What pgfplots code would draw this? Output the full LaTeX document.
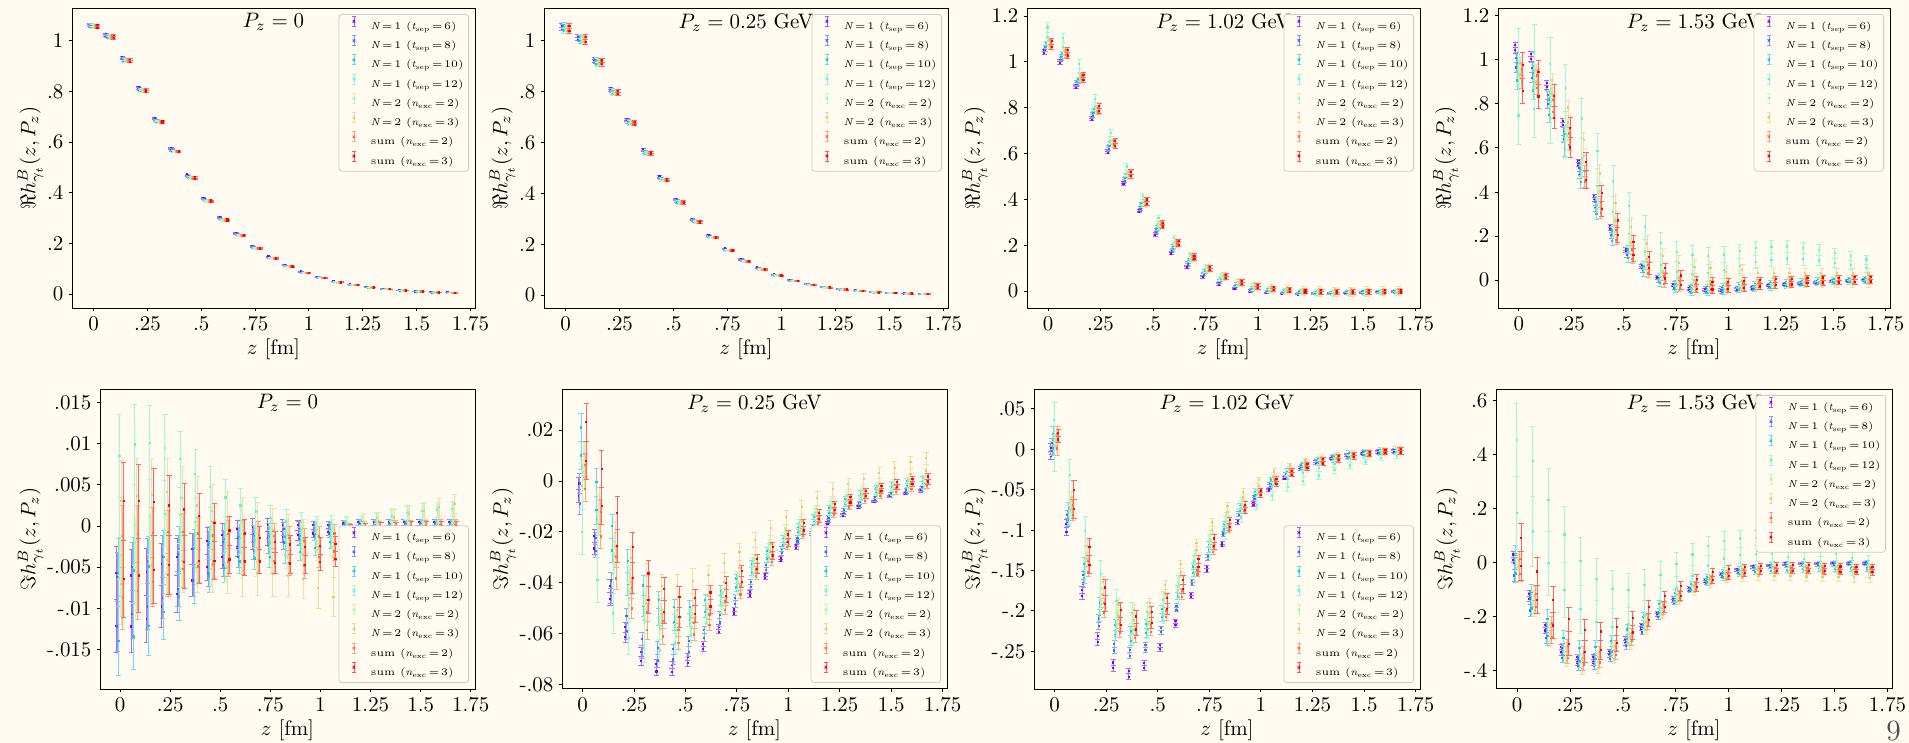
\documentclass[border=0pt]{standalone}
\usepackage{fix-cm}
\usepackage{pgfplots}
\usepackage{pgfplotstable}
\usetikzlibrary{calc}
\pgfplotsset{compat=1.18}
\definecolor{bgc}{HTML}{FFFBF0}
\definecolor{c1}{HTML}{8000FF}
\definecolor{c2}{HTML}{376FF9}
\definecolor{c3}{HTML}{12C7E6}
\definecolor{c4}{HTML}{5BF9C7}
\definecolor{c5}{HTML}{A4F99F}
\definecolor{c6}{HTML}{EDC76F}
\definecolor{c7}{HTML}{FF6F39}
\definecolor{c8}{HTML}{FF0000}

% columns: z, then (value, error) for the 8 series
\pgfplotstableread{
z a ea b eb c ec d ed e ee f ef g eg h eh
0      1.063 .007 1.060 .007 1.058 .009 1.057 .009 1.057 .009 1.057 .009 1.056 .009 1.056 .009
0.0755 1.023 .007 1.019 .007 1.017 .009 1.015 .009 1.015 .009 1.015 .009 1.015 .009 1.015 .009
0.151  0.931 .006 0.926 .006 0.923 .008 0.921 .008 0.921 .008 0.921 .008 0.921 .008 0.921 .008
0.2265 0.815 .006 0.809 .006 0.806 .007 0.803 .007 0.803 .007 0.803 .007 0.803 .007 0.803 .007
0.302  0.693 .005 0.686 .005 0.683 .006 0.680 .006 0.680 .006 0.680 .006 0.680 .006 0.680 .006
0.3775 0.575 .005 0.568 .005 0.565 .005 0.562 .005 0.562 .005 0.562 .005 0.562 .005 0.562 .005
0.453  0.470 .004 0.464 .004 0.461 .005 0.458 .005 0.458 .005 0.458 .005 0.458 .005 0.458 .005
0.5285 0.378 .004 0.372 .004 0.370 .004 0.367 .004 0.367 .004 0.367 .004 0.367 .004 0.367 .004
0.604  0.302 .003 0.297 .003 0.294 .004 0.292 .004 0.292 .004 0.292 .004 0.292 .004 0.292 .004
0.6795 0.240 .003 0.235 .003 0.233 .003 0.231 .003 0.231 .003 0.231 .003 0.231 .003 0.231 .003
0.755  0.188 .003 0.184 .003 0.182 .003 0.180 .003 0.180 .003 0.180 .003 0.180 .003 0.180 .003
0.8305 0.147 .002 0.143 .002 0.142 .003 0.140 .003 0.140 .003 0.140 .003 0.140 .003 0.140 .003
0.906  0.114 .002 0.111 .002 0.110 .002 0.108 .002 0.108 .002 0.108 .002 0.108 .002 0.108 .002
0.9815 0.088 .002 0.085 .002 0.084 .002 0.083 .002 0.083 .002 0.083 .002 0.083 .002 0.083 .002
1.057  0.067 .002 0.065 .002 0.064 .002 0.063 .002 0.063 .002 0.063 .002 0.063 .002 0.063 .002
1.1325 0.050 .001 0.048 .001 0.048 .002 0.047 .002 0.047 .002 0.047 .002 0.047 .002 0.047 .002
1.208  0.038 .001 0.036 .001 0.036 .001 0.035 .001 0.035 .001 0.035 .001 0.035 .001 0.035 .001
1.2835 0.028 .001 0.027 .001 0.026 .001 0.026 .001 0.026 .001 0.026 .001 0.026 .001 0.026 .001
1.359  0.021 .001 0.020 .001 0.019 .001 0.019 .001 0.019 .001 0.019 .001 0.019 .001 0.019 .001
1.4345 0.015 .001 0.014 .001 0.014 .001 0.014 .001 0.014 .001 0.014 .001 0.014 .001 0.014 .001
1.51   0.011 .001 0.010 .001 0.010 .001 0.010 .001 0.010 .001 0.010 .001 0.010 .001 0.010 .001
1.5855 0.008 .001 0.007 .001 0.007 .001 0.007 .001 0.007 .001 0.007 .001 0.007 .001 0.007 .001
1.661  0.006 .001 0.005 .001 0.005 .001 0.005 .001 0.005 .001 0.005 .001 0.005 .001 0.005 .001
}\tA

\pgfplotstableread{
z a ea b eb c ec d ed e ee f ef g eg h eh
0      1.054 .012 1.051 .012 1.050 .020 1.048 .020 1.048 .020 1.048 .020 1.048 .020 1.048 .020
0.0755 1.013 .011 1.009 .011 1.007 .018 1.005 .018 1.005 .018 1.005 .018 1.005 .018 1.005 .018
0.151  0.925 .009 0.920 .009 0.918 .015 0.915 .015 0.915 .015 0.915 .015 0.915 .015 0.915 .015
0.2265 0.809 .008 0.803 .008 0.800 .012 0.797 .012 0.797 .012 0.797 .012 0.797 .012 0.797 .012
0.302  0.688 .007 0.682 .007 0.678 .010 0.675 .010 0.675 .010 0.675 .010 0.675 .010 0.675 .010
0.3775 0.570 .006 0.564 .006 0.560 .008 0.557 .008 0.557 .008 0.557 .008 0.557 .008 0.557 .008
0.453  0.464 .005 0.458 .005 0.455 .007 0.452 .007 0.452 .007 0.452 .007 0.452 .007 0.452 .007
0.5285 0.375 .004 0.370 .004 0.367 .006 0.364 .006 0.364 .006 0.364 .006 0.364 .006 0.364 .006
0.604  0.298 .004 0.293 .004 0.291 .005 0.288 .005 0.288 .005 0.288 .005 0.288 .005 0.288 .005
0.6795 0.234 .003 0.230 .003 0.227 .004 0.225 .004 0.225 .004 0.225 .004 0.225 .004 0.225 .004
0.755  0.182 .003 0.178 .003 0.176 .004 0.174 .004 0.174 .004 0.174 .004 0.174 .004 0.174 .004
0.8305 0.139 .003 0.136 .003 0.134 .003 0.132 .003 0.132 .003 0.132 .003 0.132 .003 0.132 .003
0.906  0.107 .002 0.104 .002 0.103 .003 0.101 .003 0.101 .003 0.101 .003 0.101 .003 0.101 .003
0.9815 0.080 .002 0.078 .002 0.076 .003 0.075 .003 0.075 .003 0.075 .003 0.075 .003 0.075 .003
1.057  0.059 .002 0.057 .002 0.056 .002 0.055 .002 0.055 .002 0.055 .002 0.055 .002 0.055 .002
1.1325 0.043 .002 0.042 .002 0.041 .002 0.040 .002 0.040 .002 0.040 .002 0.040 .002 0.040 .002
1.208  0.032 .001 0.031 .001 0.030 .002 0.029 .002 0.029 .002 0.029 .002 0.029 .002 0.029 .002
1.2835 0.023 .001 0.022 .001 0.022 .002 0.021 .002 0.021 .002 0.021 .002 0.021 .002 0.021 .002
1.359  0.018 .001 0.017 .001 0.016 .002 0.016 .002 0.016 .002 0.016 .002 0.016 .002 0.016 .002
1.4345 0.012 .001 0.012 .001 0.011 .002 0.011 .002 0.011 .002 0.011 .002 0.011 .002 0.011 .002
1.51   0.009 .001 0.009 .001 0.008 .002 0.008 .002 0.008 .002 0.008 .002 0.008 .002 0.008 .002
1.5855 0.006 .001 0.006 .001 0.005 .002 0.005 .002 0.005 .002 0.005 .002 0.005 .002 0.005 .002
1.661  0.005 .001 0.005 .001 0.004 .002 0.004 .002 0.004 .002 0.004 .002 0.004 .002 0.004 .002
}\tB

\pgfplotstableread{
z a ea b eb c ec d ed e ee f ef g eg h eh
0      1.044 .012 1.059 .013 1.073 .016 1.130 .040 1.080 .020 1.080 .020 1.075 .022 1.078 .025
0.0755 1.000 .011 1.020 .012 1.030 .015 1.085 .040 1.040 .020 1.040 .020 1.040 .022 1.040 .024
0.151  0.892 .010 0.910 .011 0.920 .014 0.972 .038 0.935 .019 0.935 .019 0.930 .020 0.932 .022
0.2265 0.753 .010 0.770 .011 0.785 .013 0.822 .035 0.790 .018 0.790 .018 0.790 .019 0.797 .021
0.302  0.608 .009 0.625 .010 0.640 .012 0.673 .032 0.645 .017 0.645 .018 0.645 .018 0.644 .020
0.3775 0.470 .008 0.485 .010 0.500 .012 0.528 .030 0.505 .016 0.510 .018 0.510 .017 0.510 .019
0.453  0.349 .008 0.362 .009 0.377 .011 0.400 .028 0.380 .015 0.385 .018 0.385 .016 0.390 .018
0.5285 0.247 .007 0.262 .009 0.277 .011 0.305 .025 0.285 .015 0.290 .018 0.290 .015 0.290 .017
0.604  0.167 .007 0.180 .008 0.195 .010 0.220 .023 0.205 .014 0.210 .018 0.210 .014 0.210 .016
0.6795 0.106 .006 0.120 .008 0.133 .010 0.150 .020 0.140 .014 0.145 .018 0.145 .013 0.147 .015
0.755  0.063 .006 0.075 .007 0.085 .009 0.098 .018 0.095 .013 0.098 .018 0.098 .013 0.098 .014
0.8305 0.031 .005 0.042 .007 0.050 .009 0.062 .016 0.060 .013 0.063 .018 0.062 .012 0.062 .013
0.906  0.012 .005 0.020 .006 0.028 .008 0.035 .015 0.035 .012 0.038 .018 0.038 .012 0.038 .012
0.9815 0.000 .005 0.006 .006 0.012 .008 0.017 .014 0.018 .012 0.020 .018 0.020 .011 0.020 .012
1.057  -0.008 .004 -0.002 .006 0.003 .008 0.006 .013 0.008 .012 0.010 .019 0.010 .011 0.010 .011
1.1325 -0.012 .004 -0.007 .005 -0.003 .008 0.000 .013 0.002 .012 0.004 .019 0.003 .011 0.003 .011
1.208  -0.013 .004 -0.009 .005 -0.006 .008 -0.004 .012 -0.002 .012 0.000 .020 -0.001 .011 -0.001 .010
1.2835 -0.012 .004 -0.010 .005 -0.008 .008 -0.006 .012 -0.004 .012 -0.002 .020 -0.003 .011 -0.003 .010
1.359  -0.010 .004 -0.009 .005 -0.008 .008 -0.007 .012 -0.005 .012 -0.003 .020 -0.004 .011 -0.004 .010
1.4345 -0.008 .004 -0.008 .005 -0.007 .008 -0.007 .012 -0.005 .012 -0.003 .020 -0.004 .011 -0.004 .010
1.51   -0.006 .004 -0.006 .005 -0.006 .008 -0.006 .012 -0.004 .012 -0.002 .020 -0.003 .011 -0.003 .010
1.5855 -0.004 .004 -0.004 .005 -0.004 .008 -0.005 .012 -0.003 .012 -0.001 .020 -0.002 .011 -0.002 .010
1.661  -0.002 .004 -0.003 .005 -0.003 .008 -0.004 .012 -0.002 .012 0.000 .020 -0.001 .011 -0.001 .010
}\tC

\pgfplotstableread{
z a ea b eb c ec d ed e ee f ef g eg h eh
0      1.056 .025 0.988 .045 0.947 .080 0.880 .265 0.955 .060 0.960 .050 0.930 .060 0.918 .115
0.0755 1.015 .022 0.942 .045 0.900 .078 0.905 .258 0.920 .058 0.930 .050 0.900 .058 0.889 .110
0.151  0.886 .020 0.821 .040 0.785 .070 0.860 .240 0.840 .055 0.880 .058 0.790 .055 0.788 .100
0.2265 0.715 .018 0.659 .035 0.629 .068 0.768 .210 0.680 .052 0.750 .068 0.640 .052 0.647 .090
0.302  0.533 .016 0.492 .032 0.477 .060 0.644 .180 0.520 .050 0.600 .072 0.470 .050 0.497 .082
0.3775 0.374 .015 0.341 .030 0.326 .052 0.508 .160 0.370 .048 0.445 .078 0.330 .048 0.359 .072
0.453  0.238 .013 0.215 .026 0.200 .045 0.379 .142 0.240 .045 0.310 .078 0.205 .045 0.238 .065
0.5285 0.136 .012 0.124 .022 0.120 .038 0.273 .125 0.150 .042 0.205 .075 0.115 .040 0.144 .058
0.604  0.061 .010 0.055 .020 0.050 .033 0.185 .110 0.070 .040 0.130 .072 0.050 .036 0.079 .052
0.6795 0.012 .009 0.005 .018 0.000 .030 0.118 .100 0.020 .038 0.075 .070 0.000 .033 0.030 .046
0.755  -0.023 .008 -0.025 .017 -0.030 .028 0.083 .092 -0.010 .036 0.045 .066 -0.020 .030 0.000 .042
0.8305 -0.041 .008 -0.040 .016 -0.045 .026 0.070 .085 -0.030 .034 0.030 .062 -0.030 .028 -0.020 .038
0.906  -0.045 .007 -0.045 .015 -0.045 .025 0.072 .078 -0.035 .032 0.025 .058 -0.030 .026 -0.025 .035
0.9815 -0.045 .007 -0.045 .014 -0.040 .024 0.080 .072 -0.030 .030 0.010 .055 -0.030 .025 -0.025 .032
1.057  -0.040 .006 -0.040 .013 -0.035 .023 0.098 .066 -0.025 .029 0.020 .050 -0.025 .024 -0.020 .030
1.1325 -0.035 .006 -0.035 .012 -0.030 .022 0.113 .062 -0.020 .028 0.010 .046 -0.020 .023 -0.015 .028
1.208  -0.025 .005 -0.025 .011 -0.025 .021 0.120 .058 -0.015 .027 0.010 .044 -0.015 .022 -0.010 .026
1.2835 -0.020 .005 -0.020 .010 -0.018 .020 0.125 .055 -0.010 .026 0.010 .043 -0.010 .021 -0.008 .025
1.359  -0.015 .005 -0.015 .009 -0.012 .019 0.120 .052 -0.005 .025 0.010 .042 -0.005 .020 -0.003 .024
1.4345 -0.010 .004 -0.010 .008 -0.008 .018 0.113 .048 0.000 .024 0.010 .042 -0.002 .020 0.000 .023
1.51   -0.005 .004 -0.005 .008 -0.004 .017 0.100 .045 0.000 .023 0.010 .042 0.000 .019 0.000 .022
1.5855 -0.003 .004 -0.003 .007 -0.002 .016 0.088 .042 0.002 .022 0.010 .042 0.002 .019 0.002 .021
1.661  0.000 .004 0.000 .007 0.000 .015 0.073 .040 0.003 .022 0.010 .042 0.003 .018 0.003 .020
}\tD

\pgfplotstableread{
z a ea b eb c ec d ed e ee f ef g eg h eh
0      -0.0089 .0064 -0.0092 .0060 -0.0098 .0083 0.0035 .0100 -0.0060 .0050 -0.0020 .0100 -0.0050 .0075 -0.0017 .0094
0.0755 -0.0091 .0062 -0.0078 .0058 -0.0094 .0080 0.0050 .0098 -0.0050 .0060 -0.0010 .0092 -0.0044 .0069 -0.0015 .0090
0.151  -0.0084 .0057 -0.0070 .0055 -0.0085 .0072 0.0056 .0090 -0.0040 .0055 -0.0005 .0086 -0.0038 .0060 -0.0012 .0082
0.2265 -0.0072 .0051 -0.0062 .0050 -0.0071 .0066 0.0055 .0080 -0.0033 .0050 0.0000 .0082 -0.0033 .0052 -0.0011 .0072
0.302  -0.0060 .0045 -0.0055 .0043 -0.0057 .0057 0.0047 .0068 -0.0030 .0045 -0.0004 .0076 -0.0030 .0045 -0.0012 .0064
0.3775 -0.0047 .0038 -0.0047 .0038 -0.0049 .0045 0.0034 .0059 -0.0030 .0042 -0.0010 .0070 -0.0029 .0040 -0.0015 .0055
0.453  -0.0034 .0032 -0.0040 .0033 -0.0040 .0040 0.0022 .0050 -0.0032 .0040 -0.0015 .0066 -0.0029 .0035 -0.0019 .0046
0.5285 -0.0024 .0027 -0.0033 .0028 -0.0033 .0035 0.0012 .0045 -0.0030 .0038 -0.0020 .0062 -0.0027 .0034 -0.0023 .0035
0.604  -0.0015 .0022 -0.0026 .0024 -0.0028 .0030 0.0005 .0040 -0.0028 .0036 -0.0025 .0060 -0.0026 .0033 -0.0026 .0034
0.6795 -0.0010 .0019 -0.0020 .0021 -0.0026 .0027 0.0000 .0035 -0.0027 .0034 -0.0028 .0056 -0.0026 .0031 -0.0029 .0028
0.755  -0.0007 .0016 -0.0015 .0018 -0.0025 .0025 -0.0005 .0030 -0.0025 .0032 -0.0032 .0053 -0.0027 .0030 -0.0032 .0025
0.8305 -0.0006 .0014 -0.0012 .0016 -0.0024 .0022 -0.0007 .0027 -0.0022 .0030 -0.0036 .0050 -0.0030 .0030 -0.0034 .0023
0.906  -0.0005 .0012 -0.0009 .0014 -0.0022 .0020 -0.0008 .0025 -0.0020 .0028 -0.0040 .0048 -0.0033 .0030 -0.0036 .0022
0.9815 -0.0004 .0010 -0.0006 .0012 -0.0018 .0018 -0.0008 .0020 -0.0017 .0025 -0.0050 .0050 -0.0025 .0025 -0.0034 .0020
1.057  -0.0003 .0009 -0.0004 .0010 -0.0012 .0015 -0.0005 .0018 -0.0014 .0022 -0.0062 .0048 -0.0020 .0022 -0.0031 .0018
1.1325 -0.0001 .0008 -0.0002 .0009 -0.0005 .0012 -0.0003 .0015 -0.0010 .0020 -0.0030 .0030 -0.0015 .0018 -0.0010 .0012
1.208  0.0001 .0007 0.0000 .0008 -0.0003 .0010 0.0000 .0013 -0.0005 .0018 -0.0010 .0025 -0.0010 .0015 -0.0007 .0010
1.2835 0.0001 .0007 0.0000 .0008 -0.0003 .0010 0.0003 .0014 0.0000 .0017 -0.0005 .0022 -0.0008 .0014 -0.0006 .0010
1.359  0.0001 .0007 0.0000 .0008 -0.0003 .0010 0.0005 .0015 0.0004 .0017 0.0000 .0020 -0.0007 .0014 -0.0006 .0010
1.4345 0.0001 .0007 0.0000 .0008 -0.0003 .0010 0.0008 .0016 0.0008 .0017 0.0005 .0020 -0.0006 .0013 -0.0005 .0010
1.51   0.0001 .0007 0.0000 .0008 -0.0003 .0010 0.0010 .0017 0.0010 .0017 0.0008 .0021 -0.0006 .0013 -0.0005 .0010
1.5855 0.0001 .0007 0.0000 .0008 -0.0003 .0010 0.0011 .0018 0.0012 .0017 0.0012 .0022 -0.0005 .0013 -0.0005 .0010
1.661  0.0001 .0007 0.0000 .0008 -0.0003 .0010 0.0012 .0018 0.0012 .0017 0.0015 .0023 -0.0005 .0013 -0.0005 .0010
}\tE

\pgfplotstableread{
z a ea b eb c ec d ed e ee f ef g eg h eh
0      -0.0035 .0050 -0.0050 .0080 0.0155 .0110 -0.0110 .0180 0.0070 .0070 0.0060 .0090 0.0015 .0095 0.0155 .0150
0.0755 -0.0240 .0050 -0.0250 .0050 -0.0060 .0110 -0.0300 .0175 -0.0130 .0080 -0.0120 .0095 -0.0170 .0095 -0.0025 .0145
0.151  -0.0438 .0050 -0.0420 .0060 -0.0225 .0095 -0.0440 .0160 -0.0280 .0080 -0.0250 .0090 -0.0340 .0085 -0.0190 .0130
0.2265 -0.0593 .0040 -0.0560 .0060 -0.0360 .0090 -0.0550 .0130 -0.0400 .0070 -0.0350 .0095 -0.0460 .0080 -0.0320 .0120
0.302  -0.0689 .0035 -0.0645 .0050 -0.0450 .0080 -0.0600 .0110 -0.0485 .0065 -0.0420 .0095 -0.0550 .0070 -0.0415 .0105
0.3775 -0.0732 .0030 -0.0680 .0050 -0.0500 .0065 -0.0620 .0090 -0.0540 .0060 -0.0460 .0095 -0.0580 .0060 -0.0470 .0090
0.453  -0.0735 .0028 -0.0680 .0040 -0.0525 .0060 -0.0600 .0075 -0.0560 .0055 -0.0460 .0095 -0.0610 .0050 -0.0495 .0080
0.5285 -0.0703 .0025 -0.0650 .0040 -0.0520 .0050 -0.0570 .0065 -0.0550 .0050 -0.0440 .0098 -0.0580 .0045 -0.0490 .0065
0.604  -0.0650 .0020 -0.0600 .0030 -0.0490 .0045 -0.0530 .0055 -0.0520 .0045 -0.0410 .0080 -0.0545 .0040 -0.0465 .0055
0.6795 -0.0582 .0018 -0.0540 .0030 -0.0450 .0040 -0.0470 .0050 -0.0460 .0040 -0.0360 .0075 -0.0490 .0035 -0.0425 .0050
0.755  -0.0512 .0015 -0.0470 .0025 -0.0400 .0035 -0.0400 .0045 -0.0390 .0035 -0.0310 .0065 -0.0430 .0030 -0.0375 .0042
0.8305 -0.0443 .0013 -0.0405 .0020 -0.0340 .0030 -0.0340 .0040 -0.0320 .0030 -0.0260 .0060 -0.0360 .0025 -0.0325 .0038
0.906  -0.0373 .0012 -0.0340 .0020 -0.0290 .0028 -0.0280 .0035 -0.0260 .0030 -0.0215 .0060 -0.0305 .0025 -0.0275 .0034
0.9815 -0.0307 .0010 -0.0275 .0018 -0.0240 .0025 -0.0230 .0030 -0.0200 .0028 -0.0170 .0055 -0.0250 .0020 -0.0225 .0030
1.057  -0.0258 .0010 -0.0230 .0015 -0.0190 .0022 -0.0180 .0030 -0.0165 .0025 -0.0130 .0055 -0.0205 .0020 -0.0180 .0028
1.1325 -0.0205 .0009 -0.0185 .0014 -0.0150 .0020 -0.0135 .0028 -0.0120 .0025 -0.0095 .0055 -0.0160 .0020 -0.0137 .0026
1.208  -0.0166 .0008 -0.0150 .0013 -0.0115 .0020 -0.0110 .0028 -0.0090 .0023 -0.0060 .0055 -0.0125 .0018 -0.0103 .0024
1.2835 -0.0133 .0007 -0.0118 .0012 -0.0080 .0018 -0.0080 .0027 -0.0065 .0023 -0.0035 .0045 -0.0095 .0018 -0.0073 .0022
1.359  -0.0101 .0006 -0.0092 .0011 -0.0055 .0018 -0.0060 .0027 -0.0045 .0023 -0.0015 .0045 -0.0070 .0018 -0.0048 .0020
1.4345 -0.0081 .0005 -0.0070 .0010 -0.0035 .0017 -0.0040 .0027 -0.0030 .0023 0.0010 .0045 -0.0050 .0018 -0.0030 .0020
1.51   -0.0061 .0005 -0.0053 .0010 -0.0020 .0017 -0.0030 .0027 -0.0015 .0023 0.0030 .0045 -0.0035 .0018 -0.0015 .0020
1.5855 -0.0048 .0005 -0.0040 .0010 -0.0008 .0017 -0.0015 .0027 -0.0005 .0023 0.0050 .0048 -0.0022 .0018 -0.0002 .0020
1.661  -0.0038 .0005 -0.0030 .0010 0.0000 .0017 -0.0005 .0027 0.0005 .0023 0.0065 .0048 -0.0010 .0018 0.0008 .0020
}\tF

\pgfplotstableread{
z a ea b eb c ec d ed e ee f ef g eg h eh
0      -0.0030 .0100 0.0030 .0100 0.0100 .0180 0.0150 .0430 0.0080 .0100 0.0100 .0120 0.0100 .0180 0.0160 .0080
0.0755 -0.0970 .0100 -0.0860 .0100 -0.0800 .0140 -0.0520 .0400 -0.0700 .0120 -0.0660 .0140 -0.0750 .0130 -0.0620 .0240
0.151  -0.1780 .0080 -0.1610 .0100 -0.1500 .0160 -0.1200 .0370 -0.1380 .0120 -0.1280 .0160 -0.1450 .0130 -0.1320 .0220
0.2265 -0.2350 .0080 -0.2140 .0090 -0.1980 .0150 -0.1710 .0330 -0.1850 .0120 -0.1720 .0150 -0.1960 .0120 -0.1810 .0200
0.302  -0.2675 .0070 -0.2450 .0080 -0.2240 .0130 -0.2020 .0280 -0.2100 .0120 -0.1990 .0140 -0.2220 .0110 -0.2080 .0180
0.3775 -0.2780 .0070 -0.2520 .0070 -0.2310 .0120 -0.2150 .0250 -0.2180 .0120 -0.2050 .0130 -0.2290 .0100 -0.2150 .0160
0.453  -0.2675 .0060 -0.2450 .0060 -0.2220 .0110 -0.2120 .0220 -0.2100 .0110 -0.1960 .0120 -0.2220 .0090 -0.2080 .0140
0.5285 -0.2450 .0050 -0.2240 .0050 -0.2030 .0100 -0.1960 .0200 -0.1900 .0100 -0.1730 .0110 -0.2040 .0080 -0.1910 .0130
0.604  -0.2150 .0050 -0.1960 .0050 -0.1770 .0090 -0.1740 .0180 -0.1630 .0090 -0.1470 .0100 -0.1790 .0070 -0.1670 .0110
0.6795 -0.1810 .0040 -0.1650 .0040 -0.1490 .0080 -0.1470 .0160 -0.1350 .0090 -0.1200 .0090 -0.1520 .0060 -0.1410 .0100
0.755  -0.1480 .0040 -0.1340 .0040 -0.1210 .0070 -0.1200 .0150 -0.1090 .0080 -0.0950 .0090 -0.1240 .0060 -0.1150 .0090
0.8305 -0.1175 .0030 -0.1050 .0030 -0.0950 .0060 -0.0970 .0140 -0.0850 .0070 -0.0740 .0080 -0.0980 .0050 -0.0920 .0080
0.906  -0.0900 .0030 -0.0800 .0030 -0.0730 .0060 -0.0780 .0130 -0.0650 .0060 -0.0560 .0070 -0.0740 .0050 -0.0720 .0070
0.9815 -0.0675 .0030 -0.0600 .0030 -0.0540 .0050 -0.0630 .0120 -0.0480 .0060 -0.0420 .0070 -0.0550 .0040 -0.0540 .0060
1.057  -0.0500 .0020 -0.0440 .0030 -0.0400 .0050 -0.0520 .0110 -0.0360 .0050 -0.0310 .0070 -0.0400 .0040 -0.0400 .0060
1.1325 -0.0355 .0020 -0.0320 .0030 -0.0290 .0050 -0.0420 .0100 -0.0260 .0050 -0.0230 .0060 -0.0290 .0040 -0.0290 .0050
1.208  -0.0238 .0020 -0.0220 .0030 -0.0210 .0050 -0.0340 .0100 -0.0190 .0050 -0.0170 .0060 -0.0210 .0040 -0.0210 .0050
1.2835 -0.0163 .0020 -0.0160 .0030 -0.0150 .0050 -0.0280 .0090 -0.0140 .0050 -0.0130 .0060 -0.0150 .0040 -0.0150 .0050
1.359  -0.0113 .0015 -0.0110 .0030 -0.0110 .0050 -0.0220 .0080 -0.0100 .0050 -0.0100 .0060 -0.0110 .0040 -0.0110 .0050
1.4345 -0.0070 .0015 -0.0080 .0030 -0.0070 .0050 -0.0160 .0080 -0.0070 .0050 -0.0070 .0050 -0.0080 .0040 -0.0080 .0040
1.51   -0.0050 .0015 -0.0050 .0030 -0.0050 .0050 -0.0120 .0070 -0.0050 .0050 -0.0050 .0050 -0.0050 .0040 -0.0050 .0040
1.5855 -0.0033 .0015 -0.0030 .0030 -0.0030 .0050 -0.0080 .0060 -0.0030 .0050 -0.0030 .0050 -0.0030 .0040 -0.0030 .0040
1.661  -0.0020 .0015 -0.0020 .0030 -0.0020 .0050 -0.0050 .0060 -0.0020 .0050 -0.0020 .0050 -0.0020 .0040 -0.0020 .0040
}\tG

\pgfplotstableread{
z a ea b eb c ec d ed e ee f ef g eg h eh
0      0.020 .020 -0.025 .045 -0.005 .070 0.320 .270 0.000 .030 -0.020 .050 -0.015 .055 0.040 .105
0.0755 -0.124 .020 -0.155 .045 -0.140 .060 0.245 .260 -0.145 .040 -0.150 .050 -0.140 .050 -0.085 .105
0.151  -0.241 .020 -0.260 .040 -0.240 .065 0.115 .235 -0.255 .040 -0.265 .045 -0.250 .050 -0.185 .095
0.2265 -0.323 .020 -0.335 .035 -0.310 .060 0.002 .205 -0.335 .040 -0.340 .045 -0.330 .045 -0.255 .090
0.302  -0.360 .020 -0.370 .030 -0.340 .050 -0.083 .178 -0.375 .040 -0.375 .040 -0.355 .045 -0.290 .080
0.3775 -0.360 .020 -0.370 .025 -0.335 .045 -0.140 .157 -0.370 .040 -0.370 .040 -0.350 .040 -0.290 .070
0.453  -0.335 .015 -0.345 .020 -0.310 .040 -0.168 .140 -0.340 .035 -0.335 .035 -0.325 .035 -0.268 .060
0.5285 -0.290 .015 -0.300 .020 -0.265 .035 -0.165 .125 -0.290 .030 -0.290 .030 -0.275 .030 -0.232 .053
0.604  -0.238 .012 -0.250 .017 -0.215 .030 -0.140 .113 -0.235 .025 -0.235 .030 -0.220 .027 -0.188 .047
0.6795 -0.189 .010 -0.195 .015 -0.168 .027 -0.097 .100 -0.180 .022 -0.180 .027 -0.170 .023 -0.145 .040
0.755  -0.137 .010 -0.143 .013 -0.125 .024 -0.050 .088 -0.130 .020 -0.130 .025 -0.122 .020 -0.105 .035
0.8305 -0.097 .010 -0.100 .012 -0.090 .022 -0.010 .080 -0.092 .018 -0.095 .025 -0.088 .018 -0.075 .030
0.906  -0.067 .008 -0.070 .010 -0.063 .020 0.025 .072 -0.065 .016 -0.068 .025 -0.062 .016 -0.050 .028
0.9815 -0.043 .006 -0.047 .009 -0.045 .020 0.048 .066 -0.048 .015 -0.050 .025 -0.045 .015 -0.036 .025
1.057  -0.027 .006 -0.033 .008 -0.033 .020 0.058 .062 -0.036 .015 -0.040 .030 -0.035 .014 -0.028 .022
1.1325 -0.015 .005 -0.022 .008 -0.025 .020 0.062 .058 -0.030 .015 -0.035 .030 -0.030 .014 -0.022 .020
1.208  -0.010 .005 -0.015 .008 -0.020 .020 0.058 .055 -0.026 .015 -0.033 .032 -0.027 .014 -0.020 .020
1.2835 -0.005 .004 -0.011 .008 -0.017 .020 0.048 .052 -0.024 .015 -0.033 .033 -0.026 .014 -0.020 .020
1.359  -0.003 .004 -0.008 .008 -0.015 .020 0.038 .050 -0.023 .015 -0.034 .035 -0.026 .014 -0.020 .020
1.4345 -0.002 .004 -0.006 .008 -0.014 .020 0.024 .048 -0.023 .015 -0.035 .035 -0.026 .014 -0.022 .020
1.51   -0.002 .004 -0.005 .008 -0.013 .020 0.008 .046 -0.023 .015 -0.036 .035 -0.026 .014 -0.024 .020
1.5855 -0.002 .004 -0.004 .008 -0.012 .020 -0.004 .043 -0.023 .015 -0.037 .035 -0.027 .014 -0.025 .020
1.661  -0.002 .004 -0.003 .008 -0.012 .020 -0.014 .040 -0.023 .015 -0.038 .035 -0.027 .014 -0.026 .020
}\tH

\newcommand\lf{\fontsize{10.5}{12}\selectfont}
\newcommand\lgf{\fontsize{5.1}{6}\selectfont}
\newcommand\Nt[2]{{\lgf\textit{N}\,=\,#1 (\textit{t}\textsubscript{sep}\,=\,#2)}}
\newcommand\Nn[2]{{\lgf\textit{N}\,=\,#1 (\textit{n}\textsubscript{exc}\,=\,#2)}}
\newcommand\Sn[1]{{\lgf sum (\textit{n}\textsubscript{exc}\,=\,#1)}}
\pgfplotsset{
  ser/.style={draw=none, mark=none,
    legend image code/.code={%
      \path[fill=bgc] (0bp,0bp) rectangle (10bp,5.4bp);
      \draw[#1!65!bgc, line width=0.45bp] (5bp,0.2bp)--(5bp,5.2bp)
        (4.2bp,0.2bp)--(5.8bp,0.2bp) (4.2bp,5.2bp)--(5.8bp,5.2bp);
      \fill[#1] (4.5bp,2.2bp) rectangle (5.5bp,3.2bp);},
    error bars/.cd, y dir=both, y explicit, error mark=none,
    draw error bar/.code 2 args={%
      \draw[#1!60!bgc, line width=0.45bp] ##1 coordinate (eA) -- ##2 coordinate (eB)
        (eA) ++(-1.3bp,0) -- ++(2.6bp,0) (eB) ++(-1.3bp,0) -- ++(2.6bp,0);
      \fill[#1] ($(eA)!0.5!(eB)$) ++(-0.55bp,-0.55bp) rectangle ++(1.1bp,1.1bp);}},
  panel/.style={scale only axis, anchor=north west, height=150bp,
    xmin=-0.1, xmax=1.771, scaled y ticks=false,
    xtick={0,0.25,0.5,0.75,1,1.25,1.5,1.75},
    xticklabels={0,.25,.5,.75,1,1.25,1.5,1.75},
    tick align=outside, tick pos=left, major tick length=1.7bp,
    every tick/.style={black, line width=0.5bp},
    axis line style={line width=0.5bp},
    ticklabel style={font=\lf, inner sep=2.4bp},
    label style={font=\lf},
    xlabel={$z$ [fm]}, xlabel style={yshift=2bp}, ylabel shift=-4bp,
    legend cell align=left,
    legend style={font=\lgf, draw=black!20, fill=bgc,
      rounded corners=1.5bp,
      inner xsep=2.5bp, inner ysep=0.7bp, row sep=0pt, column sep=0pt,
      nodes={inner sep=0pt, text height=5.5bp, text depth=2.9bp},
      cells={inner sep=0pt, text height=5.5bp, text depth=2.9bp},
      /tikz/column 1/.style={column sep=3.5bp}},
  },
  ne/.style={legend style={at={(1,1)}, anchor=north east, xshift=-3bp, yshift=-3bp}},
  se/.style={legend style={at={(1,0)}, anchor=south east, xshift=-3bp, yshift=3bp}},
}
\newcommand\allplots[2]{%
  \addplot[ser=c1] table[x expr=\thisrow{z}-0.018,  y=a, y error=ea] {#1};
  \addplot[ser=c2] table[x expr=\thisrow{z}-0.0129, y=b, y error=eb] {#1};
  \addplot[ser=c3] table[x expr=\thisrow{z}-0.0077, y=c, y error=ec] {#1};
  \addplot[ser=c4] table[x expr=\thisrow{z}-0.0026, y=d, y error=ed] {#1};
  \addplot[ser=c5] table[x expr=\thisrow{z}+0.0026, y=e, y error=ee] {#1};
  \addplot[ser=c6] table[x expr=\thisrow{z}+0.0077, y=f, y error=ef] {#1};
  \addplot[ser=c7] table[x expr=\thisrow{z}+0.0129, y=g, y error=eg] {#1};
  \addplot[ser=c8] table[x expr=\thisrow{z}+0.018,  y=h, y error=eh] {#1};
  \legend{\Nt{1}{6}, \Nt{1}{8}, \Nt{1}{10}, \Nt{1}{12},
    \Nn{2}{2}, \Nn{2}{3}, \Sn{2}, \Sn{3}}
  \node[anchor=north, font=\lf, inner sep=0pt, yshift=-2.5bp] at (rel axis cs:0.5,1) {#2};
}
\newcommand\reylabel{$\Re h^B_{\gamma_t}(z,P_z)$}
\newcommand\imylabel{$\Im h^B_{\gamma_t}(z,P_z)$}

\begin{document}
\begin{tikzpicture}
\fill[bgc] (0,0) rectangle (954.5bp,-371.5bp);
\path[use as bounding box] (0,0) rectangle (954.5bp,-371.5bp);

% top row
\begin{axis}[panel, ne, at={(36bp,-4bp)}, width=201.5bp,
  ymin=-0.055, ymax=1.129, ytick={0,0.2,0.4,0.6,0.8,1}, yticklabels={0,.2,.4,.6,.8,1},
  ylabel=\reylabel]
\allplots{\tA}{$P_z=0$}
\end{axis}
\begin{axis}[panel, ne, at={(272bp,-4bp)}, width=202bp,
  ymin=-0.051, ymax=1.1286, ytick={0,0.2,0.4,0.6,0.8,1}, yticklabels={0,.2,.4,.6,.8,1},
  ylabel=\reylabel]
\allplots{\tB}{$P_z=0.25$ GeV}
\end{axis}
\begin{axis}[panel, ne, at={(513.5bp,-4bp)}, width=196.5bp,
  ymin=-0.074, ymax=1.235, ytick={0,0.2,0.4,0.6,0.8,1,1.2}, yticklabels={0,.2,.4,.6,.8,1,1.2},
  ylabel=\reylabel]
\allplots{\tC}{$P_z=1.02$ GeV}
\end{axis}
\begin{axis}[panel, ne, at={(749bp,-4bp)}, width=196bp,
  ymin=-0.127, ymax=1.236, ytick={0,0.2,0.4,0.6,0.8,1,1.2}, yticklabels={0,.2,.4,.6,.8,1,1.2},
  ylabel=\reylabel]
\allplots{\tD}{$P_z=1.53$ GeV}
\end{axis}

% bottom row
\begin{axis}[panel, se, at={(50bp,-194.5bp)}, width=187.5bp,
  ymin=-0.01977, ymax=0.01662,
  ytick={-0.015,-0.01,-0.005,0,0.005,0.01,0.015},
  yticklabels={-.015,-.01,-.005,0,.005,.01,.015},
  ylabel=\imylabel]
\allplots{\tE}{$P_z=0$}
\end{axis}
\begin{axis}[panel, se, at={(281bp,-194.5bp)}, width=192.5bp,
  ymin=-0.0816, ymax=0.0361,
  ytick={-0.08,-0.06,-0.04,-0.02,0,0.02},
  yticklabels={-.08,-.06,-.04,-.02,0,.02},
  ylabel=\imylabel]
\allplots{\tF}{$P_z=0.25$ GeV}
\end{axis}
\begin{axis}[panel, se, at={(517bp,-194.5bp)}, width=193bp,
  ymin=-0.2967, ymax=0.0746,
  ytick={-0.25,-0.2,-0.15,-0.1,-0.05,0,0.05},
  yticklabels={-.25,-.2,-.15,-.1,-.05,0,.05},
  ylabel=\imylabel]
\allplots{\tG}{$P_z=1.02$ GeV}
\end{axis}
\begin{axis}[panel, ne, at={(748bp,-194.5bp)}, width=198bp,
  ymin=-0.468, ymax=0.643,
  ytick={-0.4,-0.2,0,0.2,0.4,0.6},
  yticklabels={-.4,-.2,0,.2,.4,.6},
  ylabel=\imylabel]
\allplots{\tH}{$P_z=1.53$ GeV}
\end{axis}

\node[text=black!70, font=\fontsize{14.8}{16}\selectfont, inner sep=0pt] at (946.75bp,-365.5bp) {9};
\end{tikzpicture}
\end{document}
